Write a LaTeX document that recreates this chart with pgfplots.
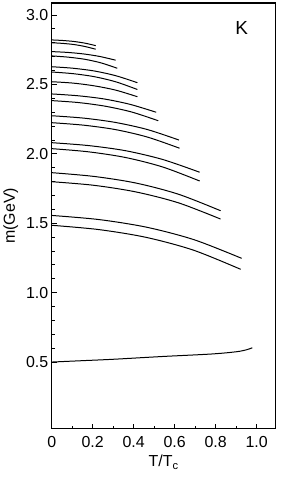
\documentclass[border=0pt]{standalone}
\usepackage{pgfplots}
\pgfplotsset{compat=1.18}
\usepackage{fontspec}
\setmainfont{Liberation Sans}
\begin{document}
\begin{tikzpicture}
\begin{axis}[
  scale only axis,
  width=224bp, height=425.7bp,
  xmin=0, xmax=1.093, ymin=0.02, ymax=3.086,
  xtick={0,0.2,0.4,0.6,0.8,1.0},
  xticklabels={0,0.2,0.4,0.6,0.8,1.0},
  ytick={0.5,1.0,1.5,2.0,2.5,3.0},
  yticklabels={0.5,1.0,1.5,2.0,2.5,3.0},
  minor x tick num=1, minor y tick num=4,
  tick pos=left, tick align=inside,
  major tick length=5bp, minor tick length=3bp,
  axis line style={line width=1.2pt},
  every tick/.style={black, line width=0.8pt},
  tick label style={font=\fontsize{16}{18}\selectfont},
  xticklabel style={yshift=-4bp},
  label style={font=\fontsize{16}{18}\selectfont},
  xlabel={T/T\textsubscript{c}},
  ylabel={m(GeV)},
  xlabel style={yshift=-1bp},
  ylabel style={yshift=1bp},
  clip=false,
  cycle list={{black,solid}},
  every axis plot/.append style={black, solid, line width=1pt, smooth, no marks},
]
\addplot coordinates {(0,2.820) (0.05375,2.816) (0.1075,2.809) (0.16125,2.797) (0.215,2.779)};
\addplot coordinates {(0,2.800) (0.05375,2.795) (0.1075,2.787) (0.16125,2.773) (0.215,2.753)};
\addplot coordinates {(0,2.736) (0.078,2.730) (0.156,2.719) (0.234,2.701) (0.312,2.674)};
\addplot coordinates {(0,2.705) (0.08,2.696) (0.16,2.681) (0.24,2.655) (0.32,2.616)};
\addplot coordinates {(0,2.627) (0.1045,2.616) (0.209,2.596) (0.3135,2.562) (0.418,2.512)};
\addplot coordinates {(0,2.589) (0.1045,2.577) (0.209,2.555) (0.3135,2.518) (0.418,2.463)};
\addplot coordinates {(0,2.519) (0.1045,2.509) (0.209,2.489) (0.3135,2.458) (0.418,2.411)};
\addplot coordinates {(0,2.431) (0.1275,2.418) (0.255,2.395) (0.3825,2.356) (0.51,2.299)};
\addplot coordinates {(0,2.383) (0.13,2.369) (0.26,2.343) (0.39,2.301) (0.52,2.238)};
\addplot coordinates {(0,2.274) (0.155,2.257) (0.31,2.226) (0.466,2.175) (0.621,2.099)};
\addplot coordinates {(0,2.224) (0.156,2.206) (0.312,2.174) (0.468,2.120) (0.624,2.040)};
\addplot coordinates {(0,2.080) (0.1805,2.059) (0.361,2.022) (0.5415,1.959) (0.722,1.867)};
\addplot coordinates {(0,2.037) (0.1805,2.014) (0.361,1.973) (0.5415,1.905) (0.722,1.804)};
\addplot coordinates {(0,1.864) (0.206,1.837) (0.412,1.789) (0.618,1.709) (0.824,1.590)};
\addplot coordinates {(0,1.799) (0.206,1.773) (0.412,1.725) (0.618,1.647) (0.824,1.530)};
\addplot coordinates {(0,1.556) (0.232,1.526) (0.4635,1.471) (0.695,1.381) (0.927,1.247)};
\addplot coordinates {(0,1.485) (0.2305,1.454) (0.461,1.398) (0.6915,1.306) (0.922,1.168)};
\addplot coordinates {(0,0.500) (0.15,0.510) (0.3,0.520) (0.54,0.540) (0.78,0.558) (0.9,0.574) (0.95,0.588) (0.979,0.603)};
\node[font=\fontsize{19}{21}\selectfont] at (axis cs:0.927,2.903) {K};
\path (rel axis cs:0,0) ++(-51bp,-49.3bp) rectangle ++(281bp,478bp);
\end{axis}
\end{tikzpicture}
\end{document}
